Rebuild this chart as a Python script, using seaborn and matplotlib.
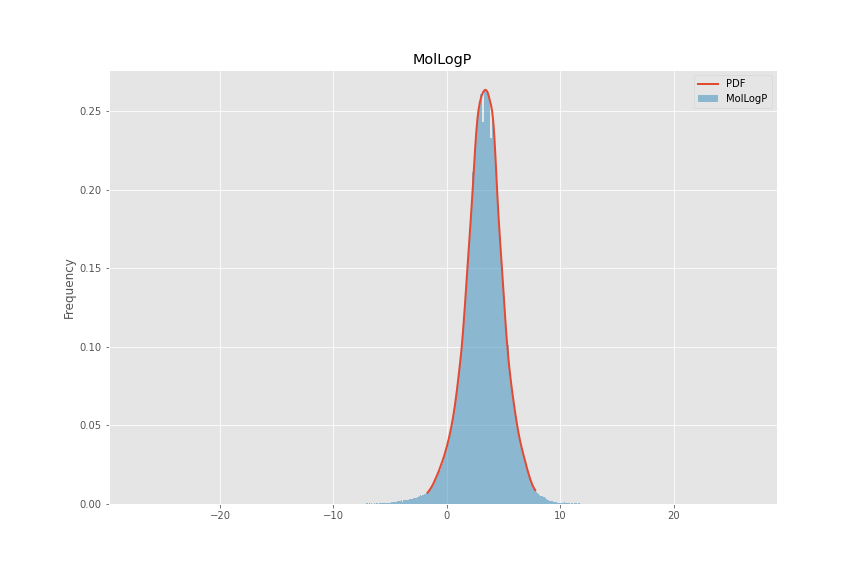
import numpy as np
import pandas as pd
import matplotlib
matplotlib.use("Agg")
import matplotlib.pyplot as plt
import seaborn as sns


# Histogram bins (density), centres start at -7.1 and step by 0.1
bin_start = -7.1
bin_width = 0.1

hist_left_tail = [
    0.0004, 0.0004, 0.0, 0.0004, 0.0, 0.0004, 0.0, 0.0004, 0.0, 0.0004,
    0.0004, 0.0, 0.0006, 0.0006, 0.0006, 0.0006, 0.0007, 0.0007, 0.0008, 0.0008,
    0.0008, 0.0009, 0.0010, 0.0010, 0.0012, 0.0013, 0.0013, 0.0014, 0.0016, 0.0018,
    0.0019, 0.0026, 0.0014, 0.0025, 0.0025, 0.0024, 0.0026, 0.0027, 0.0029, 0.0030,
    0.0032, 0.0034, 0.0036, 0.0038, 0.0041, 0.0044, 0.0047, 0.0051, 0.0055, 0.0053,
    0.0058, 0.0061, 0.0064, 0.0067,
]

hist_core = [
    0.0068, 0.0076, 0.0085, 0.0096, 0.0107, 0.0120, 0.0134, 0.0150, 0.0165, 0.0181,
    0.0198, 0.0216, 0.0235, 0.0254, 0.0274, 0.0296, 0.0320, 0.0352, 0.0388, 0.0420,
    0.0453, 0.0490, 0.0530, 0.0573, 0.0620, 0.0672, 0.0728, 0.0788, 0.0851, 0.0916,
    0.0985, 0.1070, 0.1165, 0.1265, 0.1370, 0.1478, 0.1585, 0.1690, 0.1795, 0.1905,
    0.2110, 0.2140, 0.2260, 0.2365, 0.2448, 0.2508, 0.2550, 0.2612, 0.2603, 0.2430,
    0.2631, 0.2636, 0.2632, 0.2620, 0.2597, 0.2568, 0.2330, 0.2500, 0.2435, 0.2335,
    0.2200, 0.2055, 0.1915, 0.1790, 0.1678, 0.1570, 0.1465, 0.1355, 0.1245, 0.1135,
    0.1040, 0.1010, 0.0880, 0.0815, 0.0755, 0.0700, 0.0648, 0.0598, 0.0550, 0.0505,
    0.0463, 0.0425, 0.0391, 0.0360, 0.0331, 0.0315, 0.0276, 0.0248, 0.0221, 0.0196,
    0.0172, 0.0150, 0.0131, 0.0114, 0.0100, 0.0088,
]

hist_right_tail = [
    0.0076, 0.0070, 0.0064, 0.0058, 0.0053, 0.0048, 0.0045, 0.0042, 0.0037, 0.0032,
    0.0028, 0.0024, 0.0022, 0.0019, 0.0017, 0.0015, 0.0013, 0.0011, 0.0010, 0.0009,
    0.0008, 0.0007, 0.0006, 0.0006, 0.0005, 0.0010, 0.0004, 0.0004, 0.0004, 0.0004,
    0.0, 0.0004, 0.0004, 0.0, 0.0004, 0.0004, 0.0, 0.0004, 0.0004,
]

# Fitted PDF curve, read at 0.1 steps from -1.7
pdf_start = -1.7
pdf_values = [
    0.0072, 0.0081, 0.0091, 0.0102, 0.0114, 0.0128, 0.0143, 0.0160, 0.0176, 0.0193,
    0.0210, 0.0230, 0.0250, 0.0270, 0.0291, 0.0314, 0.0339, 0.0365, 0.0393, 0.0423,
    0.0456, 0.0492, 0.0530, 0.0573, 0.0620, 0.0672, 0.0728, 0.0788, 0.0851, 0.0916,
    0.0985, 0.1070, 0.1165, 0.1265, 0.1370, 0.1478, 0.1585, 0.1690, 0.1795, 0.1905,
    0.2020, 0.2140, 0.2260, 0.2365, 0.2448, 0.2508, 0.2550, 0.2580, 0.2603, 0.2620,
    0.2631, 0.2636, 0.2632, 0.2620, 0.2597, 0.2568, 0.2540, 0.2500, 0.2435, 0.2335,
    0.2200, 0.2055, 0.1915, 0.1790, 0.1678, 0.1570, 0.1465, 0.1355, 0.1245, 0.1135,
    0.1040, 0.0955, 0.0880, 0.0815, 0.0755, 0.0700, 0.0648, 0.0598, 0.0550, 0.0505,
    0.0463, 0.0425, 0.0391, 0.0360, 0.0331, 0.0303, 0.0276, 0.0248, 0.0221, 0.0196,
    0.0172, 0.0150, 0.0131, 0.0114, 0.0100, 0.0088,
]

title = "MolLogP"


def main():
    plt.style.use("ggplot")
    fig, ax = plt.subplots(figsize=(12, 8), dpi=72)
    fig.subplots_adjust(left=0.126, right=0.899, bottom=0.125, top=0.878)

    heights = hist_left_tail + hist_core + hist_right_tail
    n = len(heights)
    hist_df = pd.DataFrame({
        "MolLogP": np.round(bin_start + bin_width * np.arange(n), 2),
        "density": heights,
    })
    edges = list(np.round(bin_start - bin_width / 2 + bin_width * np.arange(n + 1), 3))
    pdf_df = pd.DataFrame({
        "x": np.round(pdf_start + bin_width * np.arange(len(pdf_values)), 2),
        "pdf": pdf_values,
    })

    sns.lineplot(data=pdf_df, x="x", y="pdf", color="#E24A33", linewidth=2,
                 label="PDF", ax=ax)
    sns.histplot(data=hist_df, x="MolLogP", weights="density", bins=edges,
                 stat="count", element="step", fill=True, color="#348ABD",
                 alpha=0.5, linewidth=0, label="MolLogP", ax=ax)

    ax.set_xlim(-29.8, 29.1)
    ax.set_ylim(0, 0.276)
    ax.set_title(title)
    ax.set_xlabel("")
    ax.set_ylabel("Frequency")
    ax.legend(loc="upper right")

    fig.savefig("out.png", dpi=72)


if __name__ == "__main__":
    main()
